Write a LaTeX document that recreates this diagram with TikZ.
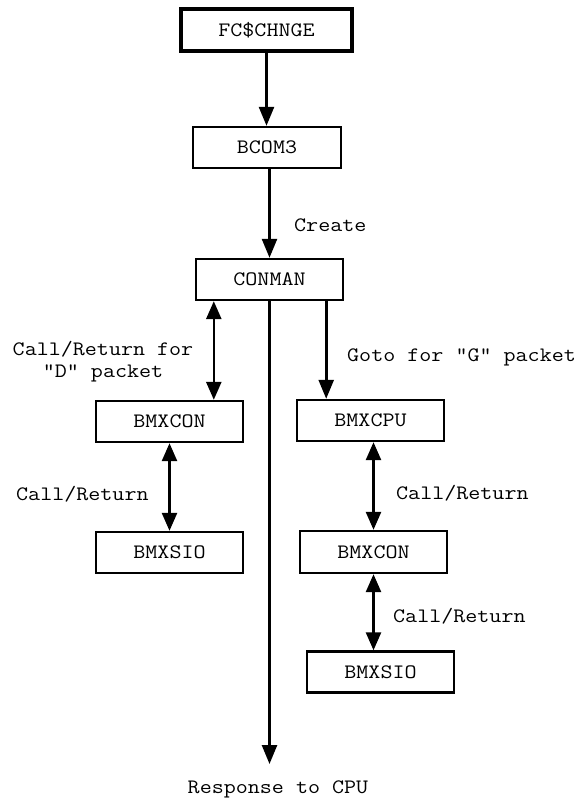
\documentclass[tikz,border=0pt]{standalone}
\usepackage{fontspec}
\usetikzlibrary{arrows.meta}
% slab-serif typewriter face, widened to a Courier pitch
\newfontfamily\typefam{Latin Modern Mono}[FakeStretch=1.14]
\newcommand{\typeface}{\typefam\fontsize{20.5}{22}\selectfont}
\begin{document}
\begin{tikzpicture}[x=1pt,y=-1pt,
  every node/.style={font=\typeface, inner sep=0pt},
  box/.style={draw, line width=2.4pt, minimum width=147pt, minimum height=41pt},
  label/.style={anchor=west},
  conn/.style={line width=2.6pt, -{Triangle[length=19pt,width=15pt]}},
  dbl/.style={line width=2.6pt, {Triangle[length=18pt,width=15pt]}-{Triangle[length=18pt,width=15pt]}}]
\useasboundingbox (0,0) rectangle (581,802);

% call chain boxes
\node[box, line width=3.4pt, minimum width=171pt, minimum height=42pt] (fc) at (266.5,30) {FC\$CHNGE};
\node[box, minimum width=148pt] (bcom) at (267,147.5) {BCOM3};
\node[box] (conman) at (269.5,279.5) {CONMAN};
\node[box] (conL) at (169.5,421.5) {BMXCON};
\node[box] (sioL) at (169.5,552.5) {BMXSIO};
\node[box] (cpu) at (370.5,420.5) {BMXCPU};
\node[box, minimum height=42pt] (conR) at (373.5,552) {BMXCON};
\node[box] (sioR) at (380.5,672) {BMXSIO};

% free end of the response line
\coordinate (resp) at (269.5,764);

% connectors
\draw[conn] (fc.south) -- (fc.south |- bcom.north);
\draw[conn] (bcom.south -| conman.north) -- (conman.north);
\draw[dbl] ([xshift=19pt]conman.south west) -- ([xshift=19pt]conman.south west |- conL.north);
\draw[conn] ([xshift=-18pt]conman.south east) -- ([xshift=-18pt]conman.south east |- cpu.north);
\draw[conn] (conman.south) -- (resp);
\draw[dbl] (conL.south) -- (sioL.north);
\draw[dbl] (cpu.south -| conR.north) -- (conR.north);
\draw[dbl] (conR.south) -- (conR.south |- sioR.north);

% labels
\node[label] (lcreate) at (294,225) {Create};
\node[align=center] (ldpack) at (103,362) {Call/Return for\\"D" packet};
\node[label] (lgoto) at (347,357) {Goto for "G" packet};
\node[label] (lcr1) at (16,494) {Call/Return};
\node[label] (lcr2) at (396,493) {Call/Return};
\node[label] (lcr3) at (393,616) {Call/Return};
\node (lresp) at (278,789) {Response to CPU};
\end{tikzpicture}
\end{document}
